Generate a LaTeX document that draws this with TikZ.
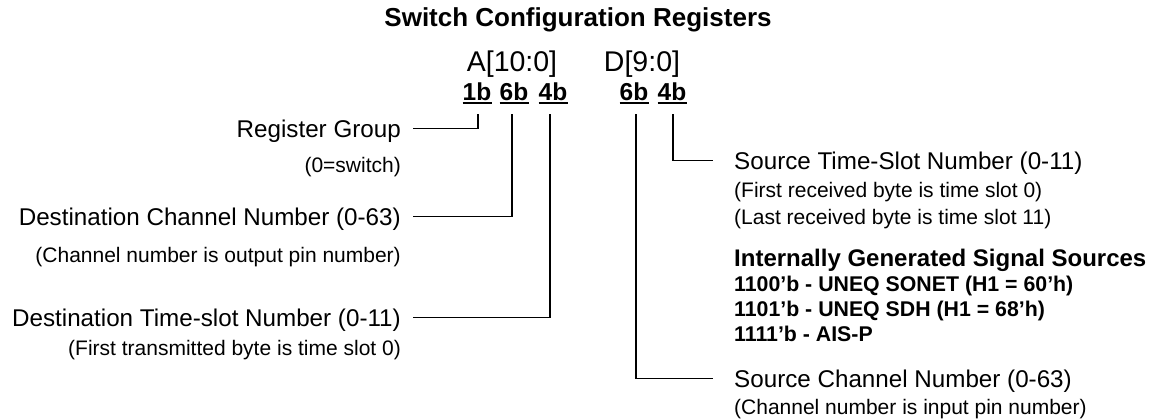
\documentclass[tikz,border=0pt]{standalone}
\usepackage{fontspec}
\setmainfont{Liberation Sans}
\begin{document}
\begin{tikzpicture}[x=1pt,y=-1pt,
  ttl/.style={inner sep=0, anchor=base, font=\bfseries\fontsize{26}{30}\selectfont},
  bus/.style={inner sep=0, anchor=base, font=\fontsize{28.5}{32}\selectfont},
  bits/.style={inner sep=0, anchor=base, font=\bfseries\fontsize{24.5}{28}\selectfont},
  lbl/.style={inner sep=0, font=\fontsize{24.2}{28}\selectfont},
  sub/.style={inner sep=0, font=\fontsize{21}{25}\selectfont},
  hdr/.style={inner sep=0, anchor=base west, font=\bfseries\fontsize{24}{28}\selectfont},
  code/.style={inner sep=0, anchor=base west, font=\bfseries\fontsize{21.3}{25}\selectfont},
  wire/.style={line width=1.8pt},
  uline/.style={line width=1.8pt}]
\useasboundingbox (0,0) rectangle (1151,420);

% heading and bus names
\node[ttl] (title) at (578,27) {Switch Configuration Registers};
\node[bus] (abus) at (512,71) {A[10:0]};
\node[bus] (dbus) at (642,71) {D[9:0]};

% bit-field widths
\node[bits] (a1) at (477,100) {1b};
\node[bits] (a2) at (514,100) {6b};
\node[bits] (a3) at (553,100) {4b};
\node[bits] (d1) at (634,100) {6b};
\node[bits] (d2) at (672,100) {4b};
\foreach \n in {a1,a2,a3,d1,d2}
  \draw[uline] ([yshift=-3pt]\n.base west) -- ([yshift=-3pt]\n.base east);

% tops of the field leads
\coordinate (g1) at (478,114);
\coordinate (g2) at (512,114);
\coordinate (g3) at (550,114);
\coordinate (g4) at (636,114);
\coordinate (g5) at (673,114);

% address fields (left)
\node[lbl, anchor=base east] (rg) at (401,137) {Register Group};
\node[sub, anchor=base east] (sw) at (401,172.5) {(0=switch)};
\node[lbl, anchor=base east] (dc) at (401,225) {Destination Channel Number (0-63)};
\node[sub, anchor=base east] (co) at (401,262.5) {(Channel number is output pin number)};
\node[lbl, anchor=base east] (dt) at (401,326) {Destination Time-slot Number (0-11)};
\node[sub, anchor=base east] (ft) at (401,355) {(First transmitted byte is time slot 0)};

% data fields (right)
\node[lbl, anchor=base west] (st) at (734,169) {Source Time-Slot Number (0-11)};
\node[sub, anchor=base west] (fr) at (734,197) {(First received byte is time slot 0)};
\node[sub, anchor=base west] (lr) at (734,224) {(Last received byte is time slot 11)};
\node[hdr] (ig) at (734,266) {Internally Generated Signal Sources};
\node[code] (c1) at (734,291) {1100’b - UNEQ SONET (H1 = 60’h)};
\node[code] (c2) at (734,316.5) {1101’b - UNEQ SDH (H1 = 68’h)};
\node[code] (c3) at (734,341.5) {1111’b - AIS-P};
\node[lbl, anchor=base west] (sc) at (734,387) {Source Channel Number (0-63)};
\node[sub, anchor=base west] (ci) at (734,414) {(Channel number is input pin number)};

% leads
\draw[wire] ([xshift=12pt,yshift=8.6pt]rg.base east) -| (g1);
\draw[wire] ([xshift=12pt,yshift=8.6pt]dc.base east) -| (g2);
\draw[wire] ([xshift=12pt,yshift=8.6pt]dt.base east) -| (g3);
\draw[wire] (g5) |- ([xshift=-21pt,yshift=8.6pt]st.base west);
\draw[wire] (g4) |- ([xshift=-21pt,yshift=8.6pt]sc.base west);
\end{tikzpicture}
\end{document}
